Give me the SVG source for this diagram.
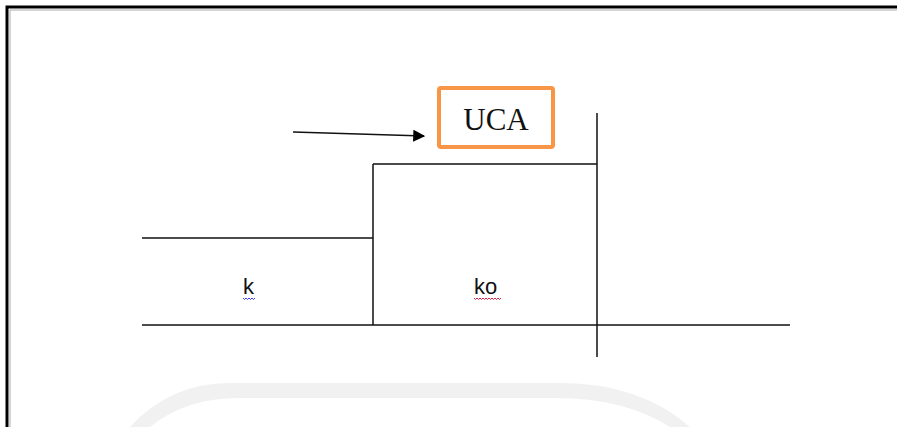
<svg xmlns="http://www.w3.org/2000/svg" width="897" height="427" viewBox="0 0 897 427">
  <defs>
    <marker id="arr" viewBox="0 0 10 10" refX="9" refY="5" markerWidth="12" markerHeight="12" markerUnits="userSpaceOnUse" orient="auto">
      <path d="M0,0 L10,5 L0,10 z" fill="#000"/>
    </marker>
    <style>
      .ln { stroke: #111; stroke-width: 1.5; fill: none; }
      .lbl { font-family: "Liberation Sans", Arial, sans-serif; font-size: 22px; fill: #111; }
    </style>
  </defs>
  <rect width="897" height="427" fill="#fff"/>
  <!-- watermark -->
  <path d="M130,427 Q170,383 230,383 L560,383 Q640,383 690,427 L670,427 Q625,398 555,398 L240,398 Q185,398 150,427 Z" fill="#f1f1f1"/>
  <!-- frame -->
  <path d="M7,427 L7,7 L897,7" fill="none" stroke="#000" stroke-width="3"/>
  <path d="M10,427 L10,10 L897,10" fill="none" stroke="#aaa" stroke-width="1"/>
  <g id="connectors">
    <line class="ln" x1="293" y1="132" x2="424" y2="136" marker-end="url(#arr)"/>
    <line class="ln" x1="597" y1="113" x2="597" y2="357"/>
    <line class="ln" x1="373" y1="164" x2="597" y2="164"/>
    <line class="ln" x1="373" y1="164" x2="373" y2="325"/>
    <line class="ln" x1="142" y1="238" x2="373" y2="238"/>
    <line class="ln" x1="142" y1="325" x2="790" y2="325"/>
  </g>
  <g id="uca">
    <rect x="439" y="88" width="114" height="59" rx="2" fill="#fff" stroke="#F79646" stroke-width="4"/>
    <text x="496" y="130" text-anchor="middle" font-family="Liberation Serif, 'Times New Roman', serif" font-size="31" fill="#111">UCA</text>
  </g>
  <g id="k">
    <text class="lbl" x="243" y="294">k</text>
    <path d="M243,298 q1.5,3 3,0 q1.5,3 3,0 q1.5,3 3,0 q1.5,3 3,0" fill="none" stroke="#3b3bff" stroke-width="1"/>
  </g>
  <g id="ko">
    <text class="lbl" x="474" y="294">ko</text>
    <path d="M474,298 q1.5,3 3,0 q1.5,3 3,0 q1.5,3 3,0 q1.5,3 3,0 q1.5,3 3,0 q1.5,3 3,0 q1.5,3 3,0 q1.5,3 3,0 q1.5,3 3,0" fill="none" stroke="#e0204a" stroke-width="1"/>
  </g>
</svg>
